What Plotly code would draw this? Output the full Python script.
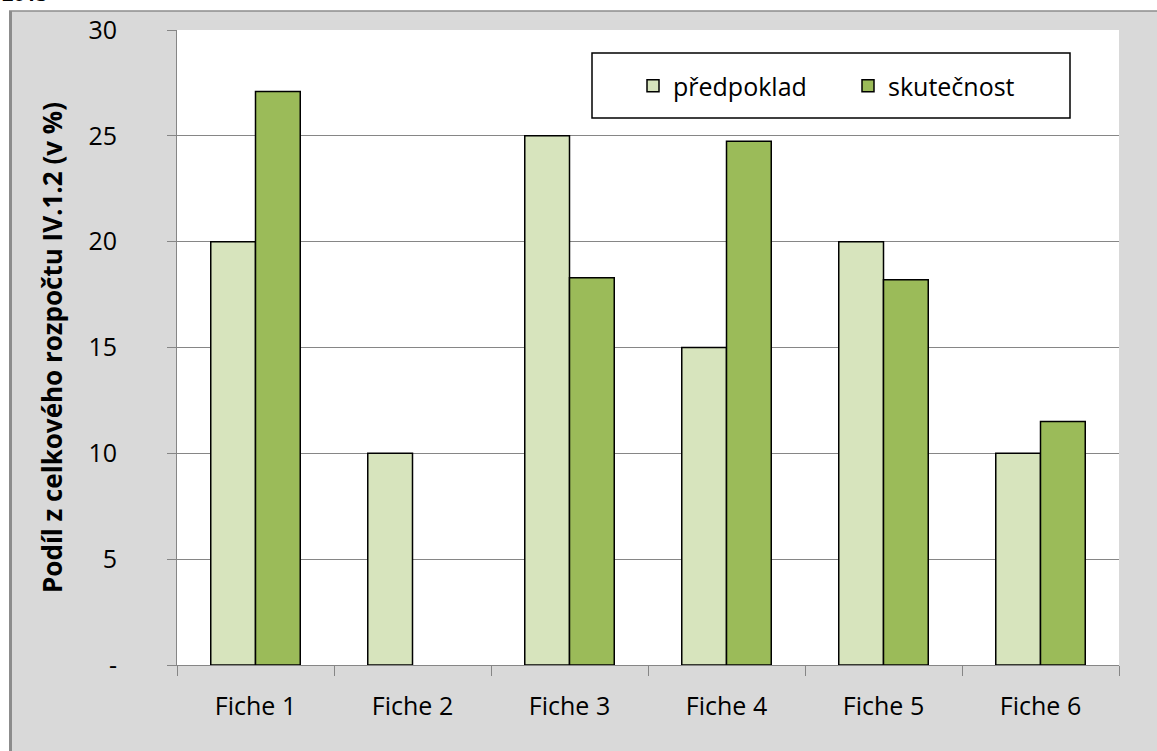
import plotly.graph_objects as go

categories = ["Fiche 1", "Fiche 2", "Fiche 3", "Fiche 4", "Fiche 5", "Fiche 6"]
predpoklad = [20, 10, 25, 15, 20, 10]
skutecnost = [27.1, 0, 18.3, 24.75, 18.2, 11.5]
y_tickvals = [0, 5, 10, 15, 20, 25, 30]
y_ticktext = ["-", "5", "10", "15", "20", "25", "30"]

W, H = 1157, 751
L, R, T, B = 177, 1119, 30, 665  # plot area pixel bounds


def px_x(p):
    return (p - L) / (R - L)


def px_y(p):
    return (B - p) / (B - T)


FONT = "Open Sans"
GRID = "#868686"

fig = go.Figure()
fig.add_trace(go.Bar(
    x=categories, y=predpoklad, name="předpoklad",
    marker=dict(color="#d7e4bd",
                line=dict(color="#000000", width=[0 if v == 0 else 1.5 for v in predpoklad])),
))
fig.add_trace(go.Bar(
    x=categories, y=skutecnost, name="skutečnost",
    marker=dict(color="#9bbb59",
                line=dict(color="#000000", width=[0 if v == 0 else 1.5 for v in skutecnost])),
))

shapes = [
    dict(type="rect", xref="paper", yref="paper", x0=px_x(-5), x1=px_x(W + 5),
         y0=px_y(11), y1=px_y(-5), fillcolor="#ffffff", line=dict(width=0), layer="below"),
    dict(type="rect", xref="paper", yref="paper", x0=px_x(-5), x1=px_x(9),
         y0=px_y(W + 5), y1=px_y(-5), fillcolor="#ffffff", line=dict(width=0), layer="below"),
    dict(type="line", xref="paper", yref="paper", x0=px_x(9), x1=px_x(W + 5),
         y0=px_y(11), y1=px_y(11), line=dict(color="#8c8c8c", width=1.5)),
    dict(type="line", xref="paper", yref="paper", x0=px_x(10.5), x1=px_x(10.5),
         y0=px_y(11), y1=px_y(W + 5), line=dict(color="#8c8c8c", width=3)),
    dict(type="rect", xref="paper", yref="paper", x0=px_x(592), x1=px_x(1070),
         y0=px_y(118), y1=px_y(53), fillcolor="#ffffff", line=dict(color="#000000", width=1.5)),
]

fig.update_layout(
    width=W, height=H,
    margin=dict(l=L, r=W - R, t=T, b=H - B, pad=0),
    paper_bgcolor="#d9d9d9",
    plot_bgcolor="#ffffff",
    barmode="group",
    bargap=0.43,
    bargroupgap=0,
    font=dict(family=FONT, size=25, color="#000000"),
    showlegend=True,
    legend=dict(
        orientation="h",
        x=px_x(633), xanchor="left",
        y=px_y(86), yanchor="middle",
        bgcolor="rgba(0,0,0,0)", borderwidth=0,
        font=dict(family=FONT, size=25, color="#000000"),
        itemwidth=30,
        entrywidth=170,
        traceorder="normal",
    ),
    shapes=shapes,
    annotations=[
        dict(text="<b>2013</b>", xref="paper", yref="paper", x=px_x(0), y=px_y(9),
             xanchor="left", yanchor="bottom", showarrow=False,
             font=dict(family=FONT, size=20, color="#000000")),
    ],
    xaxis=dict(
        showgrid=False,
        showline=True, linecolor=GRID, linewidth=1,
        ticks="outside", tickson="boundaries", ticklen=10, tickcolor=GRID, tickwidth=1,
        tickfont=dict(family=FONT, size=25, color="#000000"),
        ticklabelstandoff=19,
    ),
    yaxis=dict(
        range=[0, 30],
        tickvals=y_tickvals, ticktext=y_ticktext,
        showgrid=True, gridcolor=GRID, gridwidth=1,
        showline=True, linecolor=GRID, linewidth=1,
        zeroline=False,
        ticks="outside", ticklen=9, tickcolor=GRID, tickwidth=1,
        tickfont=dict(family=FONT, size=25, color="#000000"),
        ticklabelstandoff=45,
        title=dict(text="<b>Podíl z celkového rozpočtu IV.1.2 (v %)</b>",
                   font=dict(family=FONT, size=26, color="#000000"),
                   standoff=18),
    ),
)

fig.write_html("out.html", config={"displayModeBar": False},
               post_script="document.body.style.margin='0';")
